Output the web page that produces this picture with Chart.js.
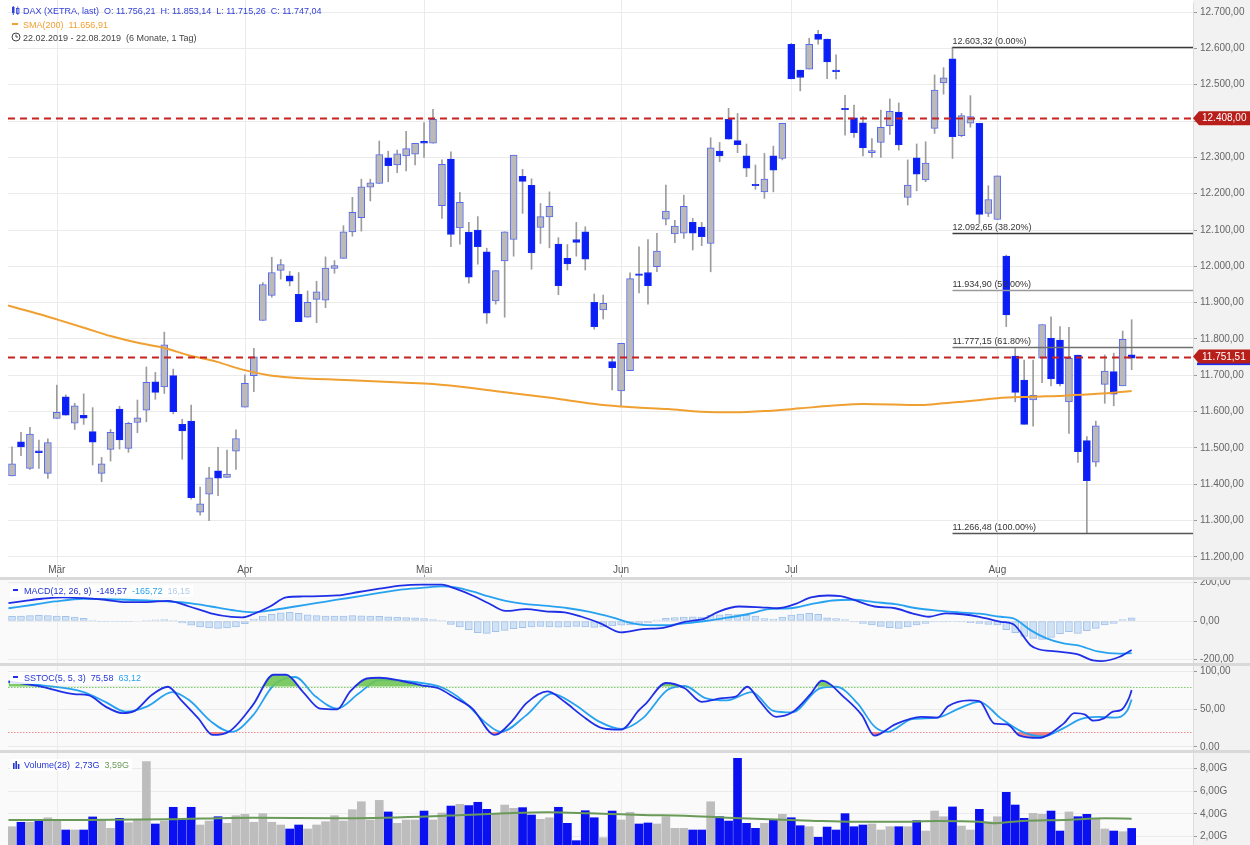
<!DOCTYPE html>
<html><head><meta charset="utf-8">
<script src="https://cdn.jsdelivr.net/npm/chart.js@4.4.1/dist/chart.umd.min.js"></script>
<style>
body{margin:0;background:#fff;width:1250px;height:845px;overflow:hidden;position:relative;font-family:"Liberation Sans Narrow","Arial Narrow",Arial,sans-serif;}
canvas{position:absolute;left:0;}
.sep{position:absolute;left:0;width:1250px;height:3px;background:#d9d9d9;}
.lg{position:absolute;font-size:9px;white-space:nowrap;line-height:12px;}
.lg span{margin-right:5px;}
.bx{background:rgba(255,255,255,0.85);padding:0 3px 0 2px;}
</style></head><body>
<canvas id="cMain" width="1250" height="578" style="top:0"></canvas>
<div class="sep" style="top:577px"></div>
<canvas id="cMacd" width="1250" height="83" style="top:580px"></canvas>
<div class="sep" style="top:663px"></div>
<canvas id="cSto" width="1250" height="84" style="top:666px"></canvas>
<div class="sep" style="top:750px"></div>
<canvas id="cVol" width="1250" height="92" style="top:753px"></canvas>

<div class="lg" id="lg1" style="left:11px;top:5px;color:#3342d8"></div>
<div class="lg" id="lg2" style="left:11px;top:19px;color:#f0a030"></div>
<div class="lg" id="lg3" style="left:11px;top:32px;color:#444"></div>
<div class="lg bx" id="lgM" style="left:10px;top:585px"></div>
<div class="lg bx" id="lgS" style="left:10px;top:672px"></div>
<div class="lg bx" id="lgV" style="left:10px;top:759px"></div>

<script>
// ---------- DATA ----------
const MONTH_LABELS = ['Mär','Apr','Mai','Jun','Jul','Aug'];
const MONTH_START = [5,26,46,68,87,110];   // candle index of first trading day of month
const PRICE_TICKS = [11200,11300,11400,11500,11600,11700,11800,11900,12000,12100,12200,12300,12400,12500,12600,12700];
const MACD_TICKS = [200,0,-200];
const STO_TICKS = [100,50,0];
const VOL_TICKS = [8,6,4,2];

const OPEN = [11423,11517,11444,11492,11430,11581,11641,11568,11590,11545,11430,11496,11607,11499,11570,11604,11682,11668,11699,11565,11574,11323,11373,11437,11419,11491,11612,11699,11851,11920,11989,11974,11923,11860,11909,11907,11994,12022,12095,12134,12218,12228,12299,12279,12304,12309,12344,12339,12167,12295,12106,12094,12100,12040,11905,12015,12074,12248,12223,12107,12136,12061,12022,12074,12095,11901,11880,11738,11657,11713,11979,11983,11999,12130,12089,12091,12121,12108,12063,12317,12405,12346,12304,12224,12205,12304,12297,12611,12540,12543,12639,12626,12540,12433,12409,12395,12313,12341,12387,12425,12190,12299,12238,12380,12505,12571,12360,12394,12394,12146,12129,12028,11753,11687,11632,11747,11802,11797,11627,11756,11520,11461,11675,11710,11671,11756.21];
const HIGH = [11503,11543,11557,11522,11525,11673,11646,11623,11649,11611,11474,11551,11615,11571,11632,11723,11708,11819,11717,11579,11618,11392,11447,11502,11494,11550,11701,11774,11955,12025,12019,11986,11983,11932,11959,12026,12016,12112,12190,12240,12240,12345,12317,12320,12372,12339,12396,12432,12293,12315,12204,12121,12137,12050,11988,12095,12306,12267,12241,12173,12205,12079,12060,12121,12109,11924,11921,11751,11788,11982,12054,12074,12091,12224,12127,12196,12132,12121,12354,12341,12435,12421,12337,12279,12311,12331,12394,12614,12540,12628,12650,12626,12582,12471,12444,12412,12352,12430,12461,12450,12293,12337,12343,12527,12547,12603.32,12421,12470,12394,12222,12249,12031,11774,11742,11742,11840,11861,11834,11832,11756,11531,11574,11756,11761,11822,11853.14];
const LOW = [11423,11479,11441,11444,11416,11581,11590,11551,11565,11453,11407,11464,11497,11488,11542,11572,11634,11650,11594,11469,11359,11315,11300,11369,11419,11441,11612,11655,11851,11915,11965,11946,11848,11860,11845,11886,11981,12022,12083,12097,12180,12228,12233,12258,12263,12279,12300,12339,12132,12054,12061,11954,12006,11843,11896,11860,12028,12146,11992,12063,12051,11922,11990,12028,11990,11827,11855,11660,11614,11713,11927,11896,11985,12114,12065,12077,12045,12057,11985,12288,12350,12313,12247,12212,12187,12205,12293,12516,12483,12543,12612,12517,12516,12361,12355,12304,12300,12300,12363,12320,12169,12208,12233,12366,12474,12297,12357,12383,12118,12137,12129,11834,11627,11565,11560,11680,11671,11671,11540,11460,11266.48,11449,11623,11616,11671,11715.26];
const CLOSE = [11456,11503,11538,11487,11515,11598,11590,11616,11582,11516,11456,11543,11522,11568,11583,11681,11653,11784,11600,11547,11363,11346,11418,11417,11428,11526,11678,11751,11950,11983,12005,11959,11848,11901,11930,11995,12002,12095,12149,12219,12230,12308,12277,12310,12324,12339,12339,12405,12281,12088,12176,11970,12054,11871,11988,12095,12306,12234,12037,12137,12165,11947,12007,12066,12020,11834,11898,11721,11788,11966,11975,11947,12042,12152,12111,12165,12091,12082,12326,12304,12350,12335,12270,12222,12240,12265,12394,12516,12520,12611,12625,12563,12536,12431,12368,12326,12319,12383,12427,12334,12224,12254,12284,12485,12519,12357,12415,12412,12143,12184,12249,11866,11653,11565,11645,11840,11690,11676,11747,11490,11410,11561,11712,11648,11799,11747.04];
const VOLUME = [2.88,3.27,3.27,3.41,3.67,3.38,2.59,2.59,2.59,3.74,3.47,2.74,3.62,3.23,3.47,8.61,3.12,3.38,4.59,3.47,4.59,3.03,3.38,3.76,3.18,3.85,3.97,3.27,4.03,3.27,3.03,2.68,3.03,2.68,3.03,3.32,3.85,3.38,4.38,5.08,3.47,5.2,4.18,3.18,3.47,3.47,4.26,3.47,4.09,4.7,4.85,4.74,5.03,4.41,4.06,4.79,4.5,4.56,3.91,3.53,3.67,4.59,3.18,1.65,4.29,3.67,1.91,4.26,3.47,4.15,3.12,3.21,3.12,3.76,2.74,2.74,2.59,2.59,5.08,3.76,3.38,8.9,3.18,2.74,3.18,3.53,3.97,3.67,2.97,2.88,1.95,2.85,2.59,4.03,2.88,3.03,3.12,2.59,2.88,2.88,2.88,3.41,2.5,4.26,3.76,4.62,2.94,2.59,4.41,3.32,3.76,5.91,4.79,3.62,4.06,3.97,4.26,2.5,4.18,3.76,3.97,3.56,2.68,2.5,2.44,2.73];

const SMA_IDX = [-0.45,3.1,5,8.3,11,14.3,16.9,19.6,22.9,25.5,28.5,31.1,37.2,43.4,47,52.6,56.4,60.1,65.7,69.4,73.2,76.9,80.6,84.4,88,91.4,95.1,101.5,104,107,110,113.7,117.4,121.2,125];
const SMA_VAL = [11892,11868,11854,11829,11808,11788,11776,11756,11737,11717,11701,11694,11687,11680,11676,11661,11649,11638,11619,11612,11607,11600,11598,11602,11609,11616,11621,11618,11623,11629,11637,11641,11644,11649,11656.91];

const MACD_IDX = [-0.4,1.45,3.35,5.7,8.0,10.4,12.7,15.1,17.4,19.8,22.2,24.5,25.7,26.9,28.8,30.6,32.5,36.3,38.7,41.0,43.4,45.7,48.0,49.5,51.4,53.2,55.1,57.4,59.8,61.7,63.6,65.7,68.0,70.4,72.7,75.1,77.4,78.9,81.2,83.6,85.5,87.4,89.2,91.1,92.5,93.9,96.3,98.6,100.5,102.4,104.2,106.1,108.0,110.4,111.8,113.7,114.6,116.5,118.9,120.7,121.7,123.6,125];
const MACD_VAL = [92,104,115,122,118,110,98,98,104,75,40,21,19,35,75,122,127,132,150,167,183,188,188,167,132,92,52,61,49,45,22,-12,-59,-42,-35,-4,14,49,75,71,66,87,122,132,129,110,75,66,40,22,40,35,22,-4,-17,-125,-146,-157,-171,-204,-207,-186,-149.57];
const SIG_IDX = [-0.4,2.4,4.8,8.0,10.4,12.7,15.1,17.4,19.8,22.2,24.5,26.9,29.2,31.6,33.9,36.3,38.7,41.0,43.4,45.7,48.0,49.5,51.4,53.2,55.1,57.4,59.8,62.1,64.5,66.9,69.3,70.4,72.7,75.1,77.4,79.8,82.1,84.5,86.9,89.2,91.6,93.9,96.3,98.6,101.0,103.3,105.7,108.0,110.4,111.8,113.7,115.5,117.4,118.9,121.2,123.6,125];
const SIG_VAL = [66,84,101,115,113,110,106,101,92,75,57,45,57,75,92,110,127,145,162,171,179,174,153,127,104,87,78,66,47,20,-12,-20,-22,-12,0,17,35,61,66,87,106,110,98,87,66,54,45,38,22,14,-47,-90,-116,-125,-157,-169,-165.72];
const HIST = [24,26,28,30,28,26,24,20,14,4,-2,-3,-3,-2,0,2,6,8,4,-10,-22,-30,-36,-38,-36,-30,-14,10,25,35,42,45,40,32,28,26,25,26,28,27,25,24,22,20,18,16,12,8,3,-18,-30,-45,-60,-64,-55,-48,-40,-35,-30,-28,-30,-32,-30,-28,-30,-33,-30,-25,-22,-20,-18,-10,5,14,18,20,22,20,30,32,35,33,30,25,12,10,20,31,36,40,35,17,12,8,-5,-12,-20,-28,-35,-38,-30,-20,-12,-5,-5,-3,-5,-8,-13,-18,-20,-45,-60,-80,-90,-95,-85,-65,-55,-64,-50,-38,-20,-12,8,16.15];

const K_IDX = [-0.4,3.35,7.15,8.5,10.4,12.3,13.7,15.6,17.4,18.9,20.8,22.4,24.3,26.9,29.2,30.6,32.5,34.4,36.3,37.7,39.6,41.0,43.4,45.7,47.6,49.5,51.4,53.9,55.8,57.4,59.8,61.7,63.6,65.9,68.0,70.0,70.8,73.0,75.1,77.0,79.3,80.8,82.1,83.4,85.3,87.1,89.2,90.4,93.0,94.9,96.3,98.6,101.5,103.3,104.5,106.9,108.0,109.7,111.1,112.5,114.6,117.4,118.6,119.8,120.7,121.9,122.9,123.8,124.7,125];
const K_VAL = [87,80,70,69,54,45,48,69,80,62,38,16,21,56,96,96,73,51,50,73,91,92,88,82,78,65,51,16,34,58,74,60,42,25,23,49,58,85,78,60,65,67,80,62,40,46,71,88,65,42,15,30,40,39,54,62,61,31,30,15,12,31,45,43,35,38,47,49,65,75.58];
const D_IDX = [-0.4,3.35,8.0,10.4,12.7,15.1,17.9,19.8,22.2,24.5,26.9,29.2,31.6,33.9,36.3,38.7,41.0,43.4,45.7,48.0,50.4,52.7,54.6,57.4,60.3,62.6,65.5,68.0,70.4,73.2,75.1,77.4,79.8,82.6,85.0,87.1,90.2,92.0,94.4,96.3,97.7,100.5,103.3,105.7,108.0,110.4,112.8,115.1,117.4,119.3,121.2,123.1,124.5,125];
const D_VAL = [86,82,73,60,47,54,73,62,34,20,42,82,93,67,51,71,89,88,85,79,61,34,20,42,71,58,34,24,38,76,81,65,62,73,48,46,78,80,58,27,20,37,39,51,60,38,20,14,25,37,40,39,48,63.12];

const VAVG_IDX = [-0.4,8.0,17.4,26.9,36.3,45.7,50.4,55.1,59.8,64.5,68.0,70.4,75.1,79.8,84.5,89.2,94.0,98.7,103.4,108.0,109.5,112.7,117.4,122.1,125];
const VAVG_VAL = [3.47,3.47,3.53,3.67,3.62,3.76,3.91,4.06,4.15,4.06,3.97,3.91,3.85,3.67,3.53,3.41,3.32,3.32,3.38,3.32,3.18,3.38,3.47,3.62,3.59];

const H_LINES = [12408, 11751.51];
const FIB_START = 105;
const FIB_LEVELS = [12603.32, 12092.65, 11934.90, 11777.15, 11266.48];
const FIB_PCT = ['0.00%','38.20%','50.00%','61.80%','100.00%'];
const FIB_COLORS = ['#3a3a3a','#3a3a3a','#9a9a9a','#707070','#555555'];

// ---------- helpers ----------
const FONT = '"Liberation Sans Narrow","Arial Narrow",Arial,sans-serif';
const X_MIN = -0.45, X_MAX = 131.85, AXIS_W = 57;
function fmtDE(v, d) { d = d===undefined?2:d; const neg=v<0; let s=Math.abs(v).toFixed(d); let p=s.split('.'); let a=p[0].replace(/\B(?=(\d{3})+(?!\d))/g,'.'); return (neg?'-':'')+a+(d?','+p[1]:''); }
const pts = (xs, ys) => xs.map((x,i)=>({x:x, y:ys[i]}));
const IDX = CLOSE.map((_,i)=>i);
const isUp = i => CLOSE[i] >= OPEN[i];

const panelBg = { id:'panelBg', beforeDraw(c, a, o){ const {ctx, chartArea:ca, width, height}=c; ctx.save(); ctx.fillStyle=o.color||'#fff'; ctx.fillRect(0,0,ca.right,height); ctx.fillStyle='#f2f2f2'; ctx.fillRect(ca.right,0,width-ca.right,height); ctx.restore(); } };
const monthGrid = { id:'monthGrid', beforeDatasetsDraw(c, a, o){ const {ctx, chartArea:ca, scales:{x}}=c; ctx.save(); ctx.strokeStyle='#ebebeb'; ctx.lineWidth=1;
  MONTH_START.forEach(i=>{ const px=Math.round(x.getPixelForValue(i))+0.5; ctx.beginPath(); ctx.moveTo(px,0); ctx.lineTo(px,ca.bottom); ctx.stroke(); });
  if (o.labels) { ctx.fillStyle='#555'; ctx.font='10px '+FONT; ctx.textAlign='center'; ctx.textBaseline='middle';
    MONTH_START.forEach((i,k)=>{ ctx.fillText(MONTH_LABELS[k], x.getPixelForValue(i), o.labelY); });
    ctx.strokeStyle='#999'; MONTH_START.forEach(i=>{ const px=Math.round(x.getPixelForValue(i))+0.5; ctx.beginPath(); ctx.moveTo(px,ca.bottom-3); ctx.lineTo(px,ca.bottom); ctx.stroke(); }); }
  ctx.restore(); } };

function yScale(min, max, ticks, fmt) {
  return { position:'right', min:min, max:max,
    afterFit(s){ s.width=AXIS_W; s.paddingTop=0; s.paddingBottom=0; },
    afterBuildTicks(s){ s.ticks = ticks.map(v=>({value:v})); },
    grid:{ color:'#ebebeb', tickColor:'#9a9a9a', tickLength:4, drawTicks:true },
    border:{ display:true, color:'#dcdcdc' },
    ticks:{ autoSkip:false, padding:3, color:'#666', font:{family:FONT, size:10}, callback:v=>fmt(v) } };
}
const xScale = { type:'linear', min:X_MIN, max:X_MAX, display:false, offset:false };
const baseOpts = (bg, yOpts, extraPlugins) => ({ responsive:false, animation:false, devicePixelRatio:1,
  layout:{padding:{left:8,right:0,top:0,bottom:0}},
  plugins:Object.assign({legend:{display:false}, tooltip:{enabled:false}, panelBg:{color:bg}}, extraPlugins||{}),
  scales:{ x:xScale, y:yOpts } });

// ---------- main chart ----------
const mainOverlay = { id:'mainOverlay',
  afterDatasetsDraw(c){ const {ctx, chartArea:ca, scales:{x,y}}=c; ctx.save();
    ctx.strokeStyle='#c8221e'; ctx.lineWidth=2.2; ctx.setLineDash([7,5]);
    H_LINES.forEach(v=>{ const py=Math.round(y.getPixelForValue(v))+0.5; ctx.beginPath(); ctx.moveTo(ca.left,py); ctx.lineTo(ca.right,py); ctx.stroke(); });
    ctx.setLineDash([]); ctx.lineWidth=1.3;
    const x0 = x.getPixelForValue(FIB_START);
    FIB_LEVELS.forEach((v,k)=>{ const py=Math.round(y.getPixelForValue(v))+0.5; ctx.strokeStyle=FIB_COLORS[k]; ctx.beginPath(); ctx.moveTo(x0,py); ctx.lineTo(ca.right,py); ctx.stroke();
      ctx.fillStyle='#333'; ctx.font='9px '+FONT; ctx.textAlign='left'; ctx.textBaseline='bottom'; ctx.fillText(fmtDE(v)+' ('+FIB_PCT[k]+')', x0, py-1.5); });
    ctx.restore(); },
  afterDraw(c){ const {ctx, chartArea:ca, scales:{y}, width}=c; ctx.save();
    H_LINES.forEach((v,k)=>{ const py=y.getPixelForValue(v);
      if (k===1){ ctx.fillStyle='#1a2cf0'; ctx.fillRect(ca.right+4, py+6, width-ca.right-4, 2.5); }
      ctx.fillStyle='#b81e1a'; ctx.beginPath(); ctx.moveTo(ca.right,py); ctx.lineTo(ca.right+6,py-7); ctx.lineTo(width,py-7); ctx.lineTo(width,py+7); ctx.lineTo(ca.right+6,py+7); ctx.closePath(); ctx.fill();
      ctx.fillStyle='#fff'; ctx.font='10px '+FONT; ctx.textAlign='left'; ctx.textBaseline='middle'; ctx.fillText(fmtDE(v), ca.right+9, py+0.5); });
    ctx.restore(); } };

new Chart(document.getElementById('cMain'), {
  type:'bar',
  data:{ datasets:[
    { type:'line', data:pts(SMA_IDX,SMA_VAL), borderColor:'#f0a030', borderWidth:2, pointRadius:0, cubicInterpolationMode:'monotone', order:1 },
    { type:'bar', data:IDX.map(i=>({x:i, y:[OPEN[i],CLOSE[i]]})), backgroundColor:IDX.map(i=>isUp(i)?'#bcb9b9':'#0a1ef5'), borderColor:IDX.map(i=>isUp(i)?'#5468f2':'#1428f5'), borderWidth:1, borderSkipped:false, barThickness:7, minBarLength:1.5, grouped:false, order:2 },
    { type:'bar', data:IDX.map(i=>({x:i, y:[LOW[i],HIGH[i]]})), backgroundColor:'#9c9c9c', barThickness:1, grouped:false, order:3 }
  ]},
  options: Object.assign(baseOpts('#ffffff', yScale(11142, 12725, PRICE_TICKS, v=>fmtDE(v)), {monthGrid:{labels:true, labelY:570}}), {layout:{padding:{left:8,right:0,top:3,bottom:0}}}),
  plugins:[panelBg, monthGrid, mainOverlay]
});

// ---------- MACD ----------
new Chart(document.getElementById('cMacd'), {
  type:'bar',
  data:{ datasets:[
    { type:'line', data:pts(MACD_IDX,MACD_VAL), borderColor:'#1f2fe6', borderWidth:1.8, pointRadius:0, cubicInterpolationMode:'monotone', order:1 },
    { type:'line', data:pts(SIG_IDX,SIG_VAL), borderColor:'#27a2f0', borderWidth:1.8, pointRadius:0, cubicInterpolationMode:'monotone', order:2 },
    { type:'bar', data:IDX.map(i=>({x:i, y:HIST[i]})), backgroundColor:'#d0e2f6', borderColor:'#a4c2e8', borderWidth:1, borderSkipped:false, barThickness:7, grouped:false, order:3 }
  ]},
  options: baseOpts('#fafafa', yScale(-217, 212, MACD_TICKS, v=>fmtDE(v)), {monthGrid:{labels:false}}),
  plugins:[panelBg, monthGrid]
});

// ---------- SSTOC ----------
const stoLines = { id:'stoLines', beforeDatasetsDraw(c){ const {ctx, chartArea:ca, scales:{y}}=c; ctx.save(); ctx.lineWidth=1; ctx.setLineDash([1.5,1.5]);
  [[80,'#7dc86c'],[20,'#f08a8a']].forEach(([v,col])=>{ const py=Math.round(y.getPixelForValue(v))+0.5; ctx.strokeStyle=col; ctx.beginPath(); ctx.moveTo(ca.left,py); ctx.lineTo(ca.right,py); ctx.stroke(); });
  ctx.restore(); } };
new Chart(document.getElementById('cSto'), {
  type:'line',
  data:{ datasets:[
    { data:pts(K_IDX,K_VAL), borderColor:'#1f2fe6', borderWidth:1.8, pointRadius:0, cubicInterpolationMode:'monotone', order:1,
      fill:{ target:{value:80}, above:'rgba(112,196,84,0.9)', below:'rgba(0,0,0,0)' } },
    { data:pts(K_IDX,K_VAL), borderColor:'rgba(0,0,0,0)', borderWidth:0, pointRadius:0, cubicInterpolationMode:'monotone', order:3,
      fill:{ target:{value:20}, above:'rgba(0,0,0,0)', below:'rgba(240,120,120,0.9)' } },
    { data:pts(D_IDX,D_VAL), borderColor:'#27a2f0', borderWidth:1.8, pointRadius:0, cubicInterpolationMode:'monotone', order:2 }
  ]},
  options: baseOpts('#fafafa', yScale(-4, 107.6, STO_TICKS, v=>fmtDE(v)), {monthGrid:{labels:false}}),
  plugins:[panelBg, monthGrid, stoLines]
});

// ---------- Volume ----------
new Chart(document.getElementById('cVol'), {
  type:'bar',
  data:{ datasets:[
    { type:'line', data:pts(VAVG_IDX,VAVG_VAL), borderColor:'#6a9a58', borderWidth:2, pointRadius:0, cubicInterpolationMode:'monotone', order:1 },
    { type:'bar', data:IDX.map(i=>({x:i, y:VOLUME[i]})), backgroundColor:IDX.map(i=>isUp(i)?'#bdbdbd':'#0a10f0'), barThickness:8, grouped:false, order:2 }
  ]},
  options: baseOpts('#fafafa', yScale(1.27, 9.37, VOL_TICKS, v=>fmtDE(v)+'G'), {monthGrid:{labels:false}}),
  plugins:[panelBg, monthGrid]
});

// ---------- legends ----------
const L = CLOSE.length-1;
const candleIcon = '<svg width="9" height="9" style="vertical-align:-1px;margin-right:3px"><rect x="1" y="1" width="2.5" height="6" fill="#3342d8"/><line x1="2.25" y1="0" x2="2.25" y2="9" stroke="#3342d8"/><rect x="5.5" y="2.5" width="2.5" height="5" fill="none" stroke="#3342d8" stroke-width="0.8"/><line x1="6.75" y1="0.5" x2="6.75" y2="9" stroke="#3342d8" stroke-width="0.8"/></svg>';
document.getElementById('lg1').innerHTML = candleIcon + '<span>DAX (XETRA, last)</span><span>O: '+fmtDE(OPEN[L])+'</span><span>H: '+fmtDE(HIGH[L])+'</span><span>L: '+fmtDE(LOW[L])+'</span><span>C: '+fmtDE(CLOSE[L])+'</span>';
document.getElementById('lg2').innerHTML = '<svg width="9" height="9" style="vertical-align:0px;margin-right:3px"><rect x="1" y="4" width="6" height="2" fill="#f0a030"/></svg><span>SMA(200)</span><span>'+fmtDE(SMA_VAL[SMA_VAL.length-1])+'</span>';
document.getElementById('lg3').innerHTML = '<svg width="10" height="10" style="vertical-align:-1px;margin-right:2px"><circle cx="5" cy="5" r="4" fill="none" stroke="#444" stroke-width="1"/><path d="M5 2.5 V5 H7" fill="none" stroke="#444" stroke-width="1"/></svg><span>22.02.2019 - 22.08.2019</span><span>(6 Monate, 1 Tag)</span>';
const dash = c => '<svg width="9" height="9" style="vertical-align:0px;margin-right:3px"><rect x="1" y="4" width="5" height="2" fill="'+c+'"/></svg>';
document.getElementById('lgM').innerHTML = dash('#1f2fe6')+'<span style="color:#2434d6">MACD(12, 26, 9)</span><span style="color:#2434d6">'+fmtDE(MACD_VAL[MACD_VAL.length-1])+'</span><span style="color:#27a2f0">'+fmtDE(SIG_VAL[SIG_VAL.length-1])+'</span><span style="color:#b4cbe8;margin-right:0">'+fmtDE(HIST[L])+'</span>';
document.getElementById('lgS').innerHTML = dash('#1f2fe6')+'<span style="color:#2434d6">SSTOC(5, 5, 3)</span><span style="color:#2434d6">'+fmtDE(K_VAL[K_VAL.length-1])+'</span><span style="color:#27a2f0;margin-right:0">'+fmtDE(D_VAL[D_VAL.length-1])+'</span>';
document.getElementById('lgV').innerHTML = '<svg width="9" height="9" style="vertical-align:-1px;margin-right:3px"><rect x="1" y="3" width="1.6" height="6" fill="#2434d6"/><rect x="3.4" y="1" width="1.6" height="8" fill="#2434d6"/><rect x="5.8" y="4" width="1.6" height="5" fill="#2434d6"/></svg><span style="color:#2434d6">Volume(28)</span><span style="color:#2434d6">'+fmtDE(VOLUME[L])+'G</span><span style="color:#6a9a58;margin-right:0">'+fmtDE(VAVG_VAL[VAVG_VAL.length-1])+'G</span>';
</script>
</body></html>
